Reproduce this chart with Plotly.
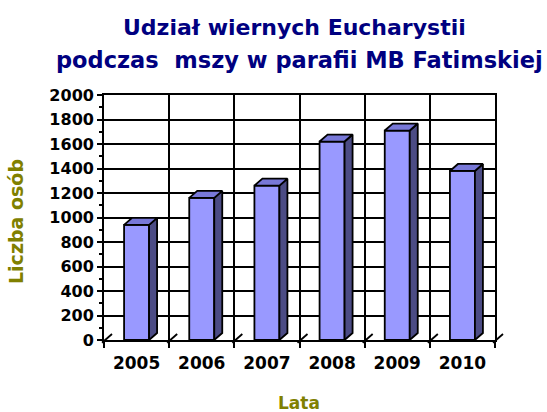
import plotly.graph_objects as go

# ---- data ----
years = ["2005", "2006", "2007", "2008", "2009", "2010"]
values = [940, 1160, 1260, 1620, 1710, 1380]
y_tick_step = 200
y_max = 2000

title_line1 = "Udział wiernych Eucharystii"
title_line2 = "podczas  mszy w parafii MB Fatimskiej"
x_title = "Lata"
y_title = "Liczba osób"

# ---- layout constants ----
W, H = 547, 412
ML, MR, MT, MB = 104, 52, 95, 72
plot_w = W - ML - MR
plot_h = H - MT - MB
n = len(years)
xr = (-0.5, n - 0.5)
yr = (0, y_max)
px_x = plot_w / (xr[1] - xr[0])
px_y = plot_h / (yr[1] - yr[0])
bar_w = 25 / px_x
dx = 8 / px_x
dy = 7 / px_y
LW = 1.8

FRONT = "#9999FF"
TOP = "#7878D8"
SIDE = "#4C4C85"
FONT = "DejaVu Sans"

def to_paper_x(x):
    return (x - xr[0]) / (xr[1] - xr[0])

def to_paper_y(y):
    return (y - yr[0]) / (yr[1] - yr[0])

def px_to_paper_x(px):
    return (px - ML) / plot_w

def px_to_paper_y(py):
    return (H - MB - py) / plot_h

idx = list(range(n))

fig = go.Figure()
fig.add_trace(go.Bar(x=idx, y=values, width=bar_w,
                     marker=dict(color=FRONT, line=dict(color="black", width=LW)),
                     hoverinfo="skip"))

side_x, side_y, top_x, top_y = [], [], [], []
for i, v in zip(idx, values):
    l, r = i - bar_w / 2, i + bar_w / 2
    side_x += [r, r + dx, r + dx, r, r, None]
    side_y += [0, dy, v + dy, v, 0, None]
    top_x += [l, r, r + dx, l + dx, l, None]
    top_y += [v, v, v + dy, v + dy, v, None]

fig.add_trace(go.Scatter(x=side_x, y=side_y, mode="lines", fill="toself",
                         fillcolor=SIDE, line=dict(color="black", width=LW),
                         hoverinfo="skip"))
fig.add_trace(go.Scatter(x=top_x, y=top_y, mode="lines", fill="toself",
                         fillcolor=TOP, line=dict(color="black", width=LW),
                         hoverinfo="skip"))

# floor depth marks at category boundaries
bounds = [i - 0.5 for i in range(n + 1)]
for b in bounds:
    fig.add_shape(type="line", xref="paper", yref="paper",
                  x0=to_paper_x(b - dx * 0.25), y0=to_paper_y(-dy * 0.4),
                  x1=to_paper_x(b + dx), y1=to_paper_y(dy * 0.85),
                  line=dict(color="black", width=LW))

fig.update_layout(
    width=W, height=H,
    margin=dict(l=ML, r=MR, t=MT, b=MB),
    paper_bgcolor="white", plot_bgcolor="white",
    showlegend=False,
    font=dict(family=FONT, color="black", size=16, weight="bold"),
    xaxis=dict(range=list(xr), tickmode="array", tickvals=idx, ticktext=years,
               ticks="", showgrid=False, zeroline=False, ticklabelstandoff=7,
               showline=True, linecolor="black", linewidth=LW, mirror=True,
               tickfont=dict(family=FONT, size=17, weight="bold", color="black"),
               minor=dict(tickmode="array", tickvals=bounds, ticks="outside",
                          ticklen=6, tickwidth=LW, tickcolor="black",
                          showgrid=True, gridcolor="black", gridwidth=LW),
               fixedrange=True),
    yaxis=dict(range=list(yr), tickmode="linear", tick0=0, dtick=y_tick_step,
               ticks="outside", ticklen=5, tickwidth=LW, tickcolor="black",
               showgrid=True, gridcolor="black", gridwidth=LW, zeroline=False,
               showline=True, linecolor="black", linewidth=LW, mirror=True,
               tickfont=dict(family=FONT, size=16, weight="bold", color="black"),
               minor=dict(dtick=y_tick_step / 2, ticks="outside", ticklen=3,
                          tickwidth=LW, tickcolor="black", showgrid=False),
               fixedrange=True),
    annotations=[
        dict(text=title_line1, xref="paper", yref="paper",
             x=px_to_paper_x(294), y=px_to_paper_y(27),
             xanchor="center", yanchor="middle", showarrow=False,
             font=dict(family=FONT, size=22, weight="bold", color="#000080")),
        dict(text=title_line2, xref="paper", yref="paper",
             x=px_to_paper_x(299), y=px_to_paper_y(60),
             xanchor="center", yanchor="middle", showarrow=False,
             font=dict(family=FONT, size=22.5, weight="bold", color="#000080")),
        dict(text=y_title, xref="paper", yref="paper",
             x=px_to_paper_x(16), y=px_to_paper_y(222), textangle=-90,
             xanchor="center", yanchor="middle", showarrow=False,
             font=dict(family=FONT, size=19, weight="bold", color="#808000")),
        dict(text=x_title, xref="paper", yref="paper",
             x=px_to_paper_x(299), y=px_to_paper_y(403),
             xanchor="center", yanchor="middle", showarrow=False,
             font=dict(family=FONT, size=17, weight="bold", color="#808000")),
    ],
)

fig.write_html("out.html", config=dict(displayModeBar=False),
               post_script="document.body.style.margin='0px';"
                           "document.body.style.overflow='hidden';")
